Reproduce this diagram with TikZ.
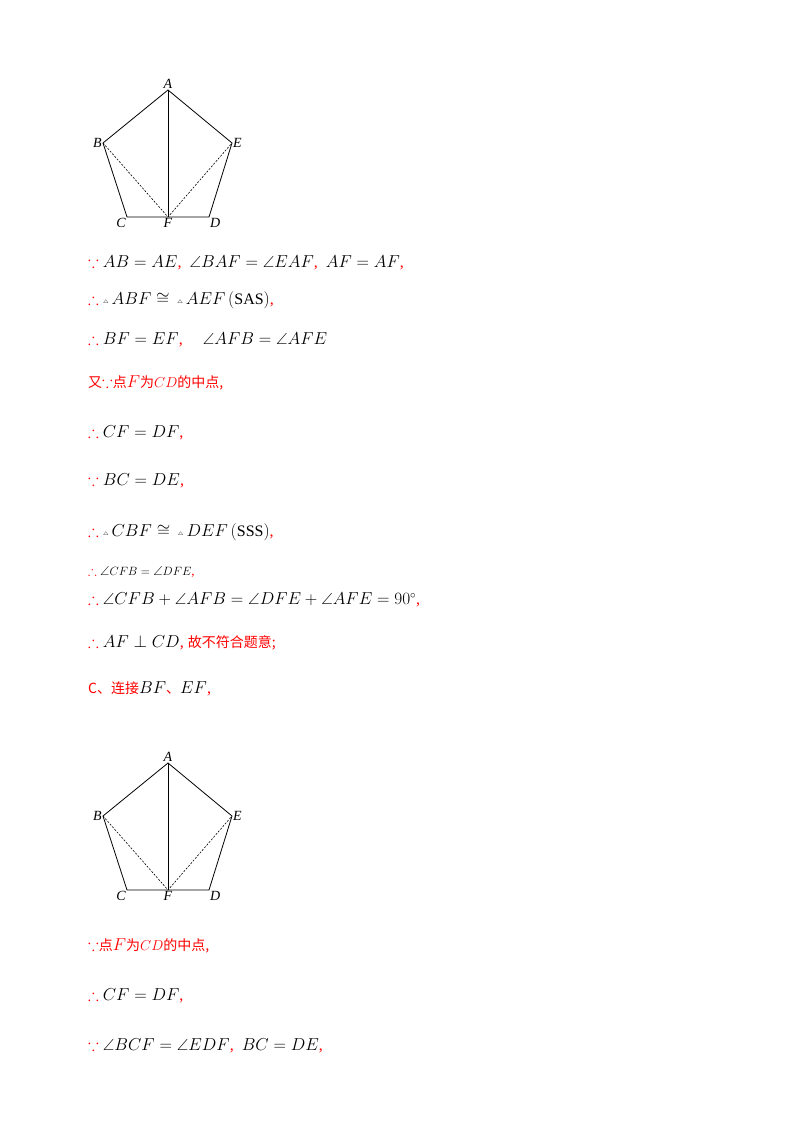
\documentclass[tikz,border=0pt]{standalone}
\usepackage{amsmath,amssymb}
\usepackage{fontspec}
\setmainfont{Liberation Serif}
\newfontfamily\cjk{Noto Sans CJK SC}
\begin{document}
\begin{tikzpicture}[x=1pt,y=-1pt,
  ln/.style={draw=black, line width=0.8pt},
  dl/.style={draw=black, line width=0.6pt, dash pattern=on 2pt off 1.5pt},
  lab/.style={font=\fontsize{14}{16}\selectfont\itshape, inner sep=1pt},
  txt/.style={anchor=west, font=\fontsize{16}{19}\selectfont, inner sep=0pt}]
\useasboundingbox (0,0) rectangle (800,1132);
\newcommand{\rd}[1]{\textcolor{red}{#1}}
\newcommand{\ck}[1]{\textcolor{red}{\cjk\fontsize{14}{16}\selectfont #1}}
\newcommand{\tri}{\raisebox{0.5pt}{\tiny$\triangle$}\,}
\foreach \dy/\s in {0/p, 673/q}{
\begin{scope}[yshift=-\dy]
\coordinate (\s A) at (168,90); \coordinate (\s B) at (103,143);
\coordinate (\s E) at (232,143); \coordinate (\s C) at (127,217);
\coordinate (\s D) at (209,217); \coordinate (\s F) at (168,217);
\draw[ln] (\s A)--(\s B)--(\s C)--(\s D)--(\s E)--cycle;
\draw[ln] (\s A)--(\s F);
\draw[dl] (\s B)--(\s F)--(\s E);
\node[lab, above] at (\s A) {A};
\node[lab, left] at (\s B) {B};
\node[lab, right] at (\s E) {E};
\node[lab, below left] at (\s C) {C};
\node[lab, below] at (\s F) {F};
\node[lab, below right] at (\s D) {D};
\end{scope}}
\node[txt] (t1) at (88,263) {\rd{$\because$} $AB=AE$\rd{,} \ $\angle BAF=\angle EAF$\rd{,} \ $AF=AF$\rd{,}};
\node[txt] (t2) at (88,300) {\rd{$\therefore$} \tri$ABF\cong{}$\,\tri$AEF\,(\mathrm{SAS})$\rd{,}};
\node[txt] (t3) at (88,340) {\rd{$\therefore$} $BF=EF$\rd{,} \quad $\angle AFB=\angle AFE$};
\node[txt] (t4) at (88,383) {\ck{又}\rd{$\because$}\ck{点}\rd{$F$}\ck{为}\rd{\Large$CD$}\ck{的中点,}};
\node[txt] (t5) at (88,433) {\rd{$\therefore$} $CF=DF$\rd{,}};
\node[txt] (t6) at (88,481) {\rd{$\because$} $BC=DE$\rd{,}};
\node[txt] (t7) at (88,532) {\rd{$\therefore$} \tri$CBF\cong{}$\,\tri$DEF\,(\mathrm{SSS})$\rd{,}};
\node[txt, font=\fontsize{13}{15}\selectfont] (t8) at (88,572) {\rd{$\therefore$} $\angle CFB=\angle DFE$\rd{,}};
\node[txt] (t9) at (88,600) {\rd{$\therefore$} $\angle CFB+\angle AFB=\angle DFE+\angle AFE=90^\circ$\rd{,}};
\node[txt] (t10) at (88,643) {\rd{$\therefore$} $AF\perp CD$\rd{,} \ck{故不符合题意;}};
\node[txt] (t11) at (88,689) {\ck{C、连接}$BF$\ck{、}$EF$\rd{,}};
\node[txt] (t12) at (88,946) {\rd{$\because$}\ck{点}\rd{$F$}\ck{为}\rd{\Large$CD$}\ck{的中点,}};
\node[txt] (t13) at (88,996) {\rd{$\therefore$} $CF=DF$\rd{,}};
\node[txt] (t14) at (88,1046) {\rd{$\because$} $\angle BCF=\angle EDF$\rd{,} \ $BC=DE$\rd{,}};
\end{tikzpicture}
\end{document}
